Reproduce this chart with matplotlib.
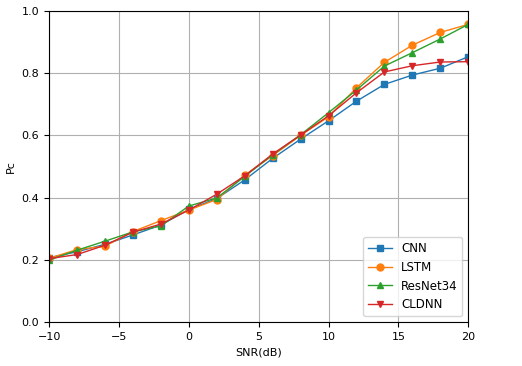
import matplotlib
matplotlib.use('Agg')
import matplotlib.pyplot as plt

snr = [-10, -8, -6, -4, -2, 0, 2, 4, 6, 8, 10, 12, 14, 16, 18, 20]

cnn = [0.207, 0.226, 0.250, 0.280, 0.312, 0.362, 0.397, 0.457, 0.526, 0.588, 0.647, 0.710, 0.764, 0.794, 0.816, 0.853]
lstm = [0.205, 0.233, 0.244, 0.291, 0.326, 0.360, 0.394, 0.472, 0.535, 0.600, 0.660, 0.753, 0.835, 0.890, 0.931, 0.957]
resnet = [0.199, 0.231, 0.260, 0.290, 0.309, 0.373, 0.399, 0.468, 0.538, 0.602, 0.673, 0.746, 0.823, 0.866, 0.910, 0.957]
cldnn = [0.204, 0.217, 0.247, 0.289, 0.315, 0.360, 0.411, 0.470, 0.540, 0.601, 0.663, 0.737, 0.804, 0.824, 0.836, 0.837]

fig = plt.figure(figsize=(5.22, 3.66), dpi=100)
ax = fig.add_axes([0.094, 0.12, 0.803, 0.85])

ax.plot(snr, cnn, marker='s', lw=1, ms=5, label='CNN')
ax.plot(snr, lstm, marker='o', lw=1, ms=5, label='LSTM')
ax.plot(snr, resnet, marker='^', lw=1, ms=5, label='ResNet34')
ax.plot(snr, cldnn, marker='v', lw=1, ms=5, label='CLDNN')

ax.set_xlim(-10, 20)
ax.set_ylim(0, 1)
ax.set_xlabel('SNR(dB)', fontsize=8)
ax.set_ylabel('Pc', fontsize=8)
ax.tick_params(labelsize=8)
ax.grid(True)
ax.legend(loc='lower right', fontsize=8.5)

fig.savefig('out.png', dpi=100)
